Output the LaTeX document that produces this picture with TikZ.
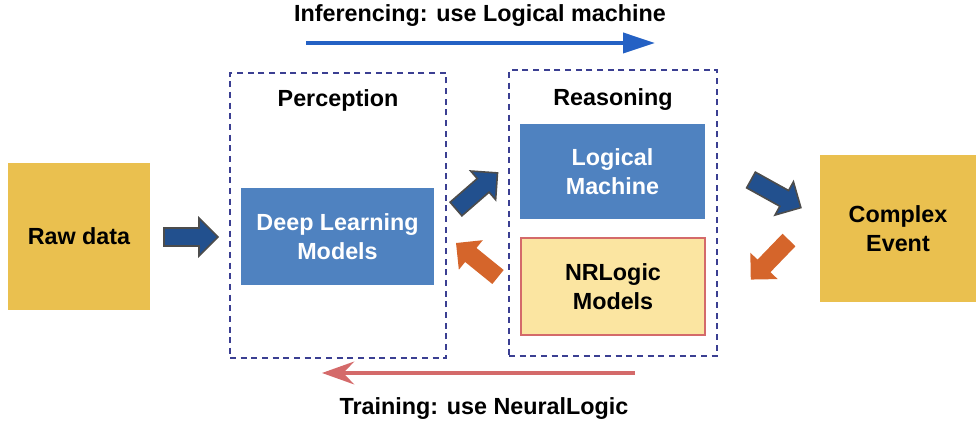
\documentclass[tikz,border=0pt]{standalone}
\usepackage{fontspec}
\setmainfont{Liberation Sans}
\usetikzlibrary{arrows.meta}
\definecolor{gold}{HTML}{EAC04F}
\definecolor{boxblue}{HTML}{4F82C0}
\definecolor{dashblue}{HTML}{3B3F92}
\definecolor{arrblue}{HTML}{22508E}
\definecolor{arrorange}{HTML}{D5652B}
\definecolor{nrfill}{HTML}{FBE5A1}
\definecolor{nrborder}{HTML}{D46A6A}
\definecolor{topblue}{HTML}{2461C4}
\newcommand{\blockarr}[4]{%
  \begin{scope}[shift={#2},rotate=#3]
    \draw[#1] (0,-9) -- ({#4-19},-9) -- ({#4-19},-19) -- (#4,0) -- ({#4-19},19) -- ({#4-19},9) -- (0,9) -- cycle;
  \end{scope}}
\begin{document}
\begin{tikzpicture}[x=0.75pt,y=-0.75pt,
  txt/.style={font=\fontsize{17.5}{21.5}\selectfont\bfseries, align=center},
  goldbox/.style={txt, fill=gold, draw=none, inner sep=0pt},
  bluebox/.style={txt, fill=boxblue, text=white, draw=none, inner sep=0pt},
  dashbox/.style={draw=dashblue, line width=1.5pt, dash pattern=on 4.5pt off 3.5pt, inner sep=0pt},
  bluearr/.style={fill=arrblue, draw=gray!60!black, line width=1.2pt, line join=miter},
  orangearr/.style={fill=arrorange, draw=none}]
\useasboundingbox (0,0) rectangle (976,423);
\node[goldbox, minimum width=106.5pt, minimum height=110.25pt] (raw) at (79,236.5) {Raw data};
\node[dashbox, minimum width=162pt, minimum height=213.75pt] (perc) at (338,215.5) {};
\node[txt] (perclab) at (338,100) {Perception};
\node[bluebox, minimum width=144.75pt, minimum height=72.75pt] (dl) at (337.5,236.5) {Deep Learning\\Models};
\node[dashbox, minimum width=156pt, minimum height=214.5pt] (reas) at (613,213) {};
\node[txt] (reaslab) at (613,100) {Reasoning};
\node[bluebox, minimum width=138.75pt, minimum height=71.25pt] (lm) at (612.5,171.5) {Logical\\Machine};
\node[txt, fill=nrfill, draw=nrborder, line width=1.5pt, inner sep=0pt, minimum width=138pt, minimum height=73pt] (nr) at (613,286.5) {NRLogic\\Models};
\node[goldbox, minimum width=117pt, minimum height=110.25pt] (ce) at (898,228.5) {Complex\\Event};
\blockarr{bluearr}{(164,237)}{0}{54}
\blockarr{bluearr}{(456,209)}{41}{55}
\blockarr{orangearr}{(498,277)}{141}{54}
\blockarr{bluearr}{(751,180)}{-29}{57}
\blockarr{orangearr}{(789,240)}{-134}{55}
\node[txt] (toplab) at (480,16) {Inferencing: use Logical machine};
\coordinate (ts) at (306,43);
\coordinate (te) at (655,43);
\draw[topblue, line width=3pt, -{Triangle[length=24pt,width=15pt]}] (ts) -- (te);
\node[txt] (botlab) at (484,409) {Training: use NeuralLogic};
\coordinate (bs) at (635,373);
\coordinate (be) at (322,373);
\draw[nrborder, line width=3pt, -{Stealth[length=24pt,width=17pt,inset=8pt]}] (bs) -- (be);
\end{tikzpicture}
\end{document}
